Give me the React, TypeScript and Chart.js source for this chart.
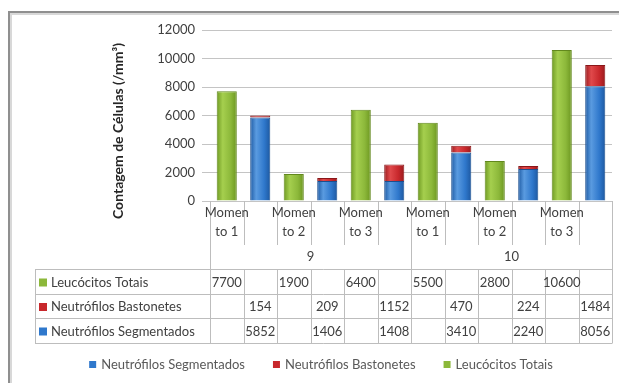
import React, { useEffect, useRef } from "react";
import { Chart, registerables } from "chart.js";

Chart.register(...registerables);

// ---- data ----
const groups = ["9", "10"];
const momentLines = [
  ["Momen", "to 1"],
  ["Momen", "to 2"],
  ["Momen", "to 3"],
];
const categories = [
  "9 Momento 1 L", "9 Momento 1 N",
  "9 Momento 2 L", "9 Momento 2 N",
  "9 Momento 3 L", "9 Momento 3 N",
  "10 Momento 1 L", "10 Momento 1 N",
  "10 Momento 2 L", "10 Momento 2 N",
  "10 Momento 3 L", "10 Momento 3 N",
];
const leucocitosTotais = [7700, null, 1900, null, 6400, null, 5500, null, 2800, null, 10600, null];
const neutrofilosBastonetes = [null, 154, null, 209, null, 1152, null, 470, null, 224, null, 1484];
const neutrofilosSegmentados = [null, 5852, null, 1406, null, 1408, null, 3410, null, 2240, null, 8056];
const yMax = 12000;
const yStep = 2000;
const yTitle = "Contagem de Células (/mm³)";

const FONT = "Lato, 'Open Sans', sans-serif";
const GREEN = ["#6f9a23", "#a5cf4e", "#8cb83a", "#6c9620"];
const BLUE = ["#1d5aa3", "#5a9be0", "#2f78cc", "#1d58a0"];
const RED = ["#9c1c1f", "#e0494b", "#c8282c", "#991b1e"];

function barGradient(cols: string[]) {
  return (c: any) => {
    const chart = c.chart;
    const xs = chart.scales && chart.scales.x;
    if (!chart.chartArea || !xs || c.dataIndex === undefined) return cols[2];
    const cx = xs.getPixelForValue(c.dataIndex);
    const hw = ((xs.right - xs.left) / categories.length) * 0.3;
    const g = chart.ctx.createLinearGradient(cx - hw, 0, cx + hw, 0);
    g.addColorStop(0, cols[0]);
    g.addColorStop(0.3, cols[1]);
    g.addColorStop(0.7, cols[2]);
    g.addColorStop(1, cols[3]);
    return g;
  };
}

const tablePlugin = {
  id: "excelTable",
  beforeDraw(chart: any) {
    const ctx = chart.ctx;
    ctx.save();
    ctx.fillStyle = "#ffffff";
    ctx.fillRect(0, 0, chart.width, chart.height);
    // frame
    ctx.strokeStyle = "#d8d8d8";
    ctx.lineWidth = 2;
    ctx.strokeRect(11, 14, 700, 500);
    ctx.strokeStyle = "#8f8f8f";
    ctx.lineWidth = 2;
    ctx.strokeRect(9, 12, 700, 500);
    ctx.restore();
  },
  afterDraw(chart: any) {
    const ctx = chart.ctx;
    const xs = chart.scales.x;
    const n = categories.length;
    const w = (xs.right - xs.left) / n;
    const bx = (i: number) => Math.round(xs.left + i * w) + 0.5;
    const y0 = chart.chartArea.bottom;
    const rows = [269, 294, 318, 343];
    const tableLeft = 35;
    const lineCol = "#bdbdbd";

    ctx.save();
    // y title
    ctx.save();
    ctx.translate(118, 131);
    ctx.rotate(-Math.PI / 2);
    ctx.font = `bold 14px ${FONT}`;
    ctx.fillStyle = "#262626";
    ctx.textAlign = "center";
    ctx.textBaseline = "middle";
    ctx.fillText(yTitle, 0, 0);
    ctx.restore();

    // category level lines
    ctx.strokeStyle = lineCol;
    ctx.lineWidth = 1;
    for (let i = 0; i <= n; i++) {
      const long = i % 6 === 0;
      ctx.beginPath();
      ctx.moveTo(bx(i), y0);
      ctx.lineTo(bx(i), long ? rows[0] : 245);
      ctx.stroke();
    }
    // category labels
    ctx.font = `13px ${FONT}`;
    ctx.fillStyle = "#404040";
    ctx.textAlign = "center";
    ctx.textBaseline = "middle";
    for (let g = 0; g < groups.length; g++) {
      for (let m = 0; m < momentLines.length; m++) {
        const idx = g * 6 + m * 2;
        const cx = xs.left + (idx + 0.5) * w;
        ctx.fillText(momentLines[m][0], cx, 213);
        ctx.fillText(momentLines[m][1], cx, 232);
      }
      const gx = xs.left + (g * 6 + 3) * w;
      ctx.fillText(groups[g], gx, 257);
    }

    // table grid
    ctx.strokeStyle = lineCol;
    for (const r of rows) {
      ctx.beginPath();
      ctx.moveTo(tableLeft, r + 0.5);
      ctx.lineTo(bx(n), r + 0.5);
      ctx.stroke();
    }
    const vlines = [tableLeft + 0.5];
    for (let i = 0; i <= n; i++) vlines.push(bx(i));
    for (const v of vlines) {
      ctx.beginPath();
      ctx.moveTo(v, rows[0]);
      ctx.lineTo(v, rows[3]);
      ctx.stroke();
    }

    const tableRows = [
      { label: "Leucócitos Totais", color: GREEN[2], data: leucocitosTotais },
      { label: "Neutrófilos Bastonetes", color: RED[2], data: neutrofilosBastonetes },
      { label: "Neutrófilos Segmentados", color: BLUE[2], data: neutrofilosSegmentados },
    ];
    tableRows.forEach((row, r) => {
      const cy = (rows[r] + rows[r + 1]) / 2 + 1;
      ctx.fillStyle = row.color;
      ctx.fillRect(39, cy - 4, 8, 8);
      ctx.fillStyle = "#404040";
      ctx.textAlign = "left";
      ctx.fillText(row.label, 51, cy);
      ctx.textAlign = "center";
      row.data.forEach((v, i) => {
        if (v === null) return;
        ctx.fillText(String(v), xs.left + (i + 0.5) * w, cy);
      });
    });

    // legend
    const legendItems = chart.data.datasets.map((d: any, i: number) => ({
      text: d.label,
      color: [BLUE[2], RED[2], GREEN[2]][i],
    }));
    ctx.font = `13px ${FONT}`;
    const gap = 28, box = 7, boxGap = 5;
    const widths = legendItems.map((it: any) => box + boxGap + ctx.measureText(it.text).width);
    const total = widths.reduce((a: number, b: number) => a + b, 0) + gap * (widths.length - 1);
    let lx = 321 - total / 2;
    const ly = 365;
    legendItems.forEach((it: any, i: number) => {
      ctx.fillStyle = it.color;
      ctx.fillRect(lx, ly - 4, box, box);
      ctx.fillStyle = "#595959";
      ctx.textAlign = "left";
      ctx.fillText(it.text, lx + box + boxGap, ly);
      lx += widths[i] + gap;
    });
    ctx.restore();
  },
};

export default function App() {
  const ref = useRef<HTMLCanvasElement | null>(null);
  useEffect(() => {
    if (!ref.current) return;
    const chart = new Chart(ref.current, {
      type: "bar",
      data: {
        labels: categories,
        datasets: [
          {
            label: "Neutrófilos Segmentados",
            data: neutrofilosSegmentados,
            backgroundColor: barGradient(BLUE),
            borderColor: "#1b4f8f",
            borderWidth: 1,
            stack: "s",
          },
          {
            label: "Neutrófilos Bastonetes",
            data: neutrofilosBastonetes,
            backgroundColor: barGradient(RED),
            borderColor: "#8a1719",
            borderWidth: 1,
            stack: "s",
          },
          {
            label: "Leucócitos Totais",
            data: leucocitosTotais,
            backgroundColor: barGradient(GREEN),
            borderColor: "#62881d",
            borderWidth: 1,
            stack: "s",
          },
        ],
      },
      options: {
        animation: false,
        responsive: false,
        maintainAspectRatio: false,
        layout: { padding: { left: 0, right: 7, top: 30, bottom: 182 } },
        plugins: { legend: { display: false }, tooltip: { enabled: false } },
        datasets: { bar: { barPercentage: 0.6, categoryPercentage: 1 } },
        scales: {
          x: {
            stacked: true,
            ticks: { display: false },
            grid: { display: false },
            border: { display: false },
            afterFit: (s: any) => { s.height = 0; },
          },
          y: {
            stacked: true,
            min: 0,
            max: yMax,
            ticks: {
              stepSize: yStep,
              padding: 7,
              color: "#404040",
              font: { family: FONT, size: 13 },
              callback: (v: any) => String(v),
            },
            grid: { color: "#c4c4c4", tickLength: 8, tickColor: "#c4c4c4" },
            border: { display: false },
            afterFit: (s: any) => { s.width = 210; },
          },
        },
      },
      plugins: [tablePlugin],
    } as any);
    return () => chart.destroy();
  }, []);
  return (
    <div style={{ position: "fixed", left: 0, top: 0, width: 619, height: 383, background: "#fff" }}>
      <canvas ref={ref} width={619} height={383} style={{ width: 619, height: 383 }} />
    </div>
  );
}
